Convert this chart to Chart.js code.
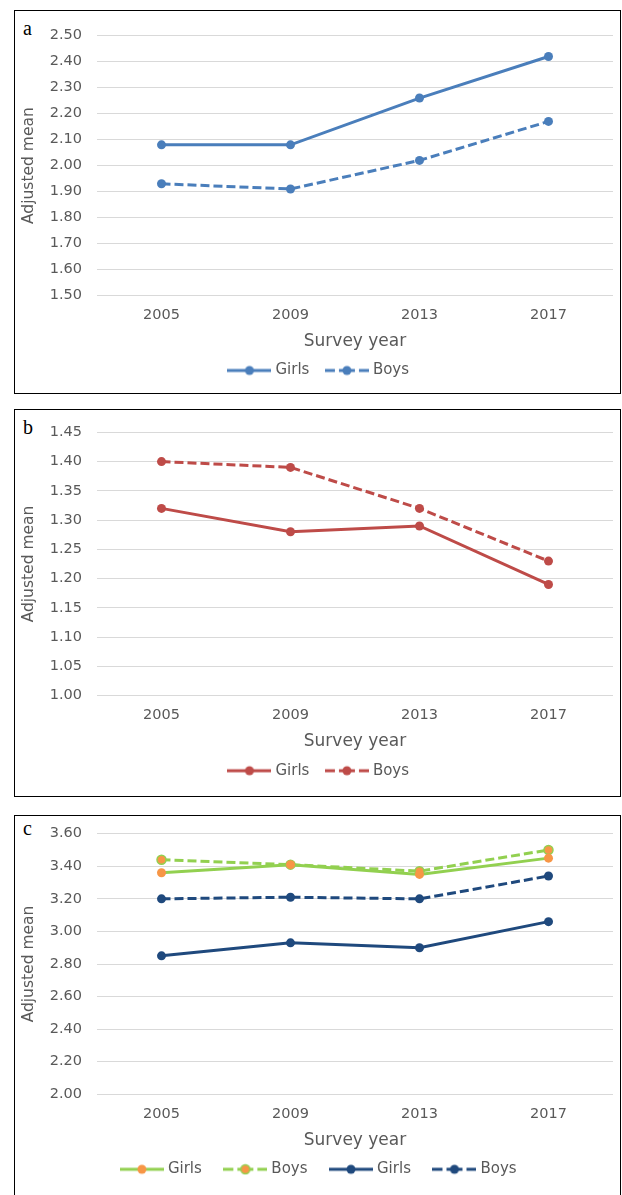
<!DOCTYPE html>
<html>
<head>
<meta charset="utf-8">
<script src="https://cdn.jsdelivr.net/npm/chart.js@4.4.0/dist/chart.umd.min.js"></script>
<style>
  body { margin: 0; background: #fff; width: 622px; height: 1195px; position: relative; overflow: hidden; }
  .box { position: absolute; left: 14px; width: 607px; border: 1px solid #000; box-sizing: border-box; }
  .tag { position: absolute; font-family: 'Liberation Serif', serif; font-size: 20px; color: #000; line-height: 1; }
  canvas { position: absolute; left: 15px; }
</style>
</head>
<body>
<div class="box" style="top:10px;height:384px"></div>
<div class="box" style="top:409px;height:388px"></div>
<div class="box" style="top:815px;height:390px"></div>
<div class="tag" style="left:23px;top:18px">a</div>
<div class="tag" style="left:23px;top:417px">b</div>
<div class="tag" style="left:23px;top:818px">c</div>
<canvas id="chartA" width="605" height="382" style="top:11px"></canvas>
<canvas id="chartB" width="605" height="386" style="top:410px"></canvas>
<canvas id="chartC" width="605" height="379" style="top:816px"></canvas>
<script>
// data
const years = ['2005', '2009', '2013', '2017'];

const girlsA = [2.08, 2.08, 2.26, 2.42];
const boysA  = [1.93, 1.91, 2.02, 2.17];

const girlsB = [1.32, 1.28, 1.29, 1.19];
const boysB  = [1.40, 1.39, 1.32, 1.23];

const girlsC1 = [3.36, 3.41, 3.35, 3.45];
const boysC1  = [3.44, 3.41, 3.37, 3.50];
const girlsC2 = [2.85, 2.93, 2.90, 3.06];
const boysC2  = [3.20, 3.21, 3.20, 3.34];

// y axis ranges: [min, max, step]
const rangeA = [1.50, 2.50, 0.10];
const rangeB = [1.00, 1.45, 0.05];
const rangeC = [2.00, 3.60, 0.20];

const BLUE = '#4A7EBB', RED = '#BE4B48', GREEN = '#92D050', ORANGE = '#F79646', NAVY = '#1F497D';
const GREY = '#595959';
const FONT = "'DejaVu Sans', Verdana, sans-serif";

// small legend icon: line with a dot in the middle
function legendIcon(lineColor, dotColor, dashed, dotBorder) {
  const c = document.createElement('canvas');
  c.width = 44; c.height = 12;
  const g = c.getContext('2d');
  g.strokeStyle = lineColor;
  g.lineWidth = 3;
  const segs = dashed ? [[0, 10], [14, 30], [34, 44]] : [[0, 44]];
  segs.forEach(s => { g.beginPath(); g.moveTo(s[0], 6); g.lineTo(s[1], 6); g.stroke(); });
  g.beginPath();
  g.arc(22, 6, 4.5, 0, Math.PI * 2);
  g.fillStyle = dotColor;
  g.fill();
  if (dotBorder) { g.lineWidth = 1.5; g.strokeStyle = dotBorder; g.stroke(); }
  return c;
}

function series(label, values, color, dashed, dotColor, dotBorder) {
  return {
    label,
    data: values,
    borderColor: color,
    borderWidth: 3,
    borderDash: dashed ? [9, 4] : [],
    pointRadius: 4.5,
    pointHoverRadius: 4.5,
    pointBackgroundColor: dotColor || color,
    pointBorderColor: dotBorder || dotColor || color,
    pointBorderWidth: dotBorder ? 1.5 : 0,
    tension: 0,
    fill: false,
    icon: legendIcon(color, dotColor || color, dashed, dotBorder)
  };
}

function makePanel(id, datasets, range, plotTop, plotBottom, legendPad) {
  const canvas = document.getElementById(id);
  const H = canvas.height;
  const axisH = 48.5, legendH = 15 + legendPad + 10;
  // legend text centre sits legendPad + 7.5 below the legend top; keep it 75px under the plot
  const axisFit = 75 - legendPad - 7.5;
  new Chart(canvas, {
    type: 'line',
    data: { labels: years, datasets },
    options: {
      responsive: false,
      animation: false,
      devicePixelRatio: 1,
      layout: { padding: { top: plotTop, right: 7, left: 12, bottom: H - plotBottom - axisFit - legendH } },
      plugins: {
        tooltip: { enabled: false },
        legend: {
          position: 'bottom',
          labels: {
            usePointStyle: true,
            pointStyleWidth: 37,
            padding: legendPad,
            color: GREY,
            font: { family: FONT, size: 15 },
            generateLabels: (chart) => chart.data.datasets.map((ds, i) => ({
              text: ds.label,
              pointStyle: ds.icon,
              fillStyle: 'transparent',
              strokeStyle: 'transparent',
              lineWidth: 0,
              fontColor: GREY,
              hidden: false,
              datasetIndex: i
            }))
          }
        }
      },
      scales: {
        x: {
          offset: true,
          grid: { display: false, drawTicks: false },
          border: { display: false },
          ticks: { color: GREY, font: { family: FONT, size: 14.5 }, padding: 11 },
          title: { display: true, text: 'Survey year', color: GREY, font: { family: FONT, size: 17 },
                   padding: { top: 4, bottom: axisFit - 46 - 10.2 } },
          afterFit: (s) => { s.height = axisFit; }
        },
        y: {
          min: range[0],
          max: range[1],
          grid: { color: '#D9D9D9', lineWidth: 1, drawTicks: true, tickLength: 15, tickColor: 'transparent' },
          border: { display: false },
          ticks: {
            stepSize: range[2],
            color: GREY,
            font: { family: FONT, size: 14.5 },
            padding: 0,
            callback: (v) => Number(v).toFixed(2)
          },
          title: { display: true, text: 'Adjusted mean', color: GREY, font: { family: FONT, size: 15.5 }, padding: { top: -7, bottom: 4 } },
          afterFit: (s) => { s.width = 70; }
        }
      }
    }
  });
}

makePanel('chartA', [
  series('Girls', girlsA, BLUE, false),
  series('Boys', boysA, BLUE, true)
], rangeA, 24.7, 284.5, 19);

makePanel('chartB', [
  series('Girls', girlsB, RED, false),
  series('Boys', boysB, RED, true)
], rangeB, 22.3, 285.7, 19);

makePanel('chartC', [
  series('Girls', girlsC1, GREEN, false, ORANGE),
  series('Boys', boysC1, GREEN, true, ORANGE, GREEN),
  series('Girls', girlsC2, NAVY, false),
  series('Boys', boysC2, NAVY, true)
], rangeC, 17.7, 278.3, 25);
</script>
</body>
</html>
